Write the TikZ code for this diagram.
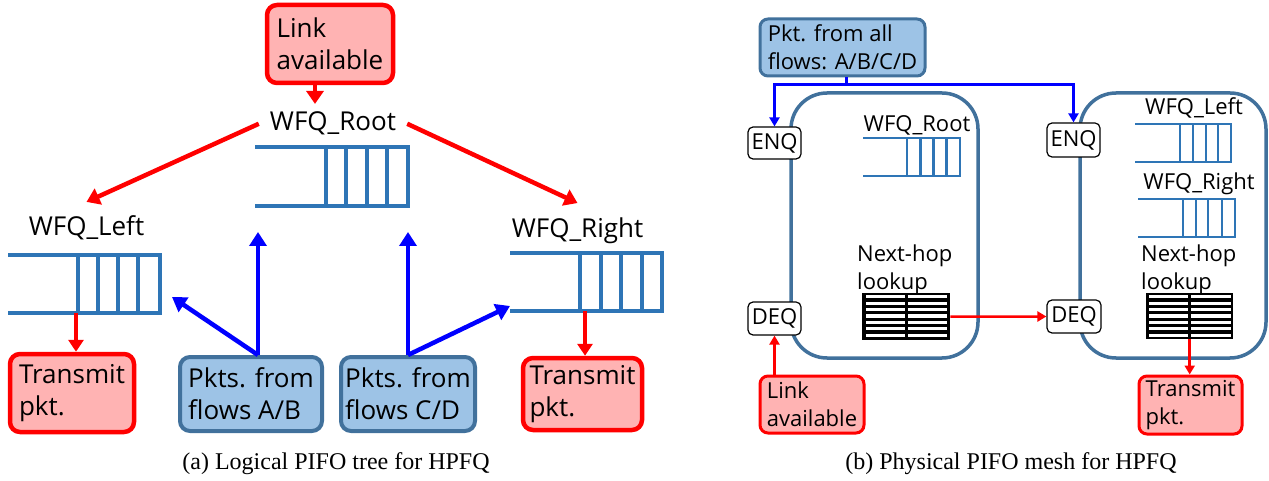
\documentclass[tikz,border=0pt]{standalone}
\usepackage{fontspec}
\setmainfont{Open Sans}
\newfontfamily\capfont{Liberation Serif}
\usetikzlibrary{arrows.meta}
\definecolor{qblue}{HTML}{2E75B6}
\definecolor{bborder}{HTML}{41719C}
\definecolor{bfill}{HTML}{9DC3E6}
\definecolor{rfill}{HTML}{FFB3B3}
\newcommand{\drawqueue}[6]{%
  \draw[#1] (#2,#3) -- (#4,#3) -- (#4,#5) -- (#2,#5);
  \foreach \xd in {#6} {\draw[#1] (\xd,#3) -- (\xd,#5);}
}
\newcommand{\tablestripes}[6]{% left, right, midleft, midright, top, (unused)
  \foreach \i in {0,...,6} {
    \pgfmathsetmacro\yy{#5+2.1+6.43*\i}
    \fill[white] (#1,\yy) rectangle (#3,{\yy+3.2});
    \fill[white] (#4,\yy) rectangle (#2,{\yy+3.2});
  }
}
\begin{document}
\begin{tikzpicture}[x=1pt,y=-1pt,
  bigtxt/.style={font=\fontsize{26}{32}\selectfont},
  smalltxt/.style={font=\fontsize{22}{28}\selectfont},
  boxbase/.style={rounded corners=10pt, align=left, inner xsep=3pt, inner ysep=0pt},
  redboxA/.style={boxbase, bigtxt, draw=red, fill=rfill, line width=4.5pt},
  blueboxA/.style={boxbase, bigtxt, draw=bborder, fill=bfill, line width=4pt},
  redboxB/.style={boxbase, smalltxt, draw=red, fill=rfill, line width=3pt, rounded corners=8pt},
  blueboxB/.style={boxbase, smalltxt, draw=bborder, fill=bfill, line width=3pt, rounded corners=8pt},
  lblA/.style={bigtxt, inner xsep=11pt, inner ysep=14pt},
  lblB/.style={smalltxt, inner sep=0pt},
  qA/.style={draw=qblue, line width=4.5pt},
  qB/.style={draw=qblue, line width=2.8pt},
  rarrA/.style={draw=red, line width=4.5pt, -{Triangle[length=13pt,width=17pt]}},
  rarrAs/.style={draw=red, line width=3.5pt, -{Triangle[length=12pt,width=15pt]}},
  barrA/.style={draw=blue, line width=4.5pt, -{Triangle[length=14pt,width=17pt]}},
  rarrB/.style={draw=red, line width=2.5pt, -{Triangle[length=9pt,width=10pt]}},
  barrB/.style={draw=blue, line width=3pt, -{Triangle[length=9pt,width=10pt]}},
  blineB/.style={draw=blue, line width=3pt},
  pifobox/.style={draw=bborder, line width=3.5pt, rounded corners=36pt, inner sep=0pt},
  portbox/.style={draw=black, fill=white, line width=1.2pt, rounded corners=5pt, smalltxt, inner xsep=2pt, inner ysep=0pt},
  tablebox/.style={fill=black, inner sep=0pt},
  captxt/.style={font=\capfont\fontsize{24}{28}\selectfont, inner sep=0pt}
]
\useasboundingbox (0,0) rectangle (1269,481);

% ================= (a) Logical PIFO tree =================
\node[redboxA, minimum width=126, minimum height=78] (linkA) at (330,44) {Link\\available};
\node[lblA, inner ysep=8pt, anchor=base] (rootA) at (333,131) {WFQ\_Root};
\node[lblA, anchor=base] (leftA) at (86.5,236) {WFQ\_Left};
\node[lblA, anchor=base] (rightA) at (577.5,237) {WFQ\_Right};

\drawqueue{qA}{255}{147}{408}{206}{326,346,367,387}
\drawqueue{qA}{8}{255}{160}{313}{78,98,118,138}
\drawqueue{qA}{510}{253}{662}{311}{580,601,621,642}

\node[redboxA, minimum width=124, minimum height=78] (txA) at (72,393) {Transmit\\pkt.};
\node[blueboxA, minimum width=142, minimum height=74] (pktAB) at (251,394) {Pkts. from\\flows A/B};
\node[blueboxA, minimum width=134, minimum height=74] (pktCD) at (408,394) {Pkts. from\\flows C/D};
\node[redboxA, minimum width=119, minimum height=72] (txB) at (582.5,394) {Transmit\\pkt.};

\coordinate (rootIn1) at (258,232);
\coordinate (rootIn2) at (408,232);
\coordinate (leftIn) at (172,297);
\coordinate (rightIn) at (510,306);
\coordinate (qLout) at (76,313);
\coordinate (qRout) at (585,311);

\draw[rarrA] ([xshift=-15pt]linkA.south) -- ([xshift=-15pt]linkA.south |- rootA.north);
\draw[rarrA] (rootA.west) -- (leftA.north);
\draw[rarrA] (rootA.east) -- (rightA.north);
\draw[rarrAs] (qLout) -- (qLout |- txA.north);
\draw[rarrAs] (qRout) -- (qRout |- txB.north);
\draw[barrA] (pktAB.north -| rootIn1) -- (rootIn1);
\draw[barrA] (pktAB.north -| rootIn1) -- (leftIn);
\draw[barrA] (pktCD.north -| rootIn2) -- (rootIn2);
\draw[barrA] (pktCD.north -| rootIn2) -- (rightIn);

\node[captxt, anchor=base] (capA) at (336,469) {(a) Logical PIFO tree for HPFQ};

% ================= (b) Physical PIFO mesh =================
\node[pifobox, minimum width=187, minimum height=265] (pifo1) at (884.5,225.5) {};
\node[pifobox, minimum width=186, minimum height=265] (pifo2) at (1173,225.5) {};

\node[blueboxB, minimum width=165, minimum height=57] (pktAll) at (842.5,47.5) {Pkt. from all\\flows: A/B/C/D};

\node[portbox, minimum width=53, minimum height=32] (enq1) at (774.5,143) {ENQ};
\node[portbox, minimum width=53, minimum height=33] (deq1) at (774.5,318.5) {DEQ};
\node[portbox, minimum width=53, minimum height=34] (enq2) at (1073.5,140) {ENQ};
\node[portbox, minimum width=54, minimum height=33] (deq2) at (1074,316.5) {DEQ};

\node[lblB, anchor=base] (rootB) at (917,132) {WFQ\_Root};
\drawqueue{qB}{863}{138}{960}{176}{907,920.25,933.5,946.75}
\node[lblB, anchor=base] (leftB) at (1194,115) {WFQ\_Left};
\drawqueue{qB}{1135}{124}{1231}{162}{1180,1193,1206,1218}
\node[lblB, anchor=base] (rightB) at (1199,190) {WFQ\_Right};
\drawqueue{qB}{1138}{199}{1235}{237}{1183,1196,1208,1222}

\node[lblB, align=left, anchor=north west] (nh1) at (857,245) {Next-hop\\lookup};
\node[lblB, align=left, anchor=north west] (nh2) at (1141,245) {Next-hop\\lookup};

\node[tablebox, minimum width=88, minimum height=47, anchor=north west] (tab1) at (862,293) {};
\tablestripes{865.5}{946.5}{904.5}{907.5}{293}{}
\node[tablebox, minimum width=87, minimum height=46, anchor=north west] (tab2) at (1146,293) {};
\tablestripes{1148.5}{1230.5}{1188}{1191}{293}{}

\node[redboxB, minimum width=104, minimum height=57] (linkB) at (812,404.5) {Link\\available};
\node[redboxB, minimum width=103, minimum height=58] (txC) at (1190.5,405) {Transmit\\pkt.};

\coordinate (split) at (846,85);
\draw[blineB] (pktAll.south -| split) -- (split);
\draw[barrB] (split) -| (enq1.north);
\draw[barrB] (split) -| (enq2.north);
\draw[rarrB] (tab1.east) -- (deq2.west);
\draw[rarrB] (linkB.north -| deq1) -- (deq1.south);
\draw[rarrB] (tab2.south) -- (tab2.south |- txC.north);

\node[captxt, anchor=base] (capB) at (1011,469) {(b) Physical PIFO mesh for HPFQ};
\end{tikzpicture}
\end{document}
